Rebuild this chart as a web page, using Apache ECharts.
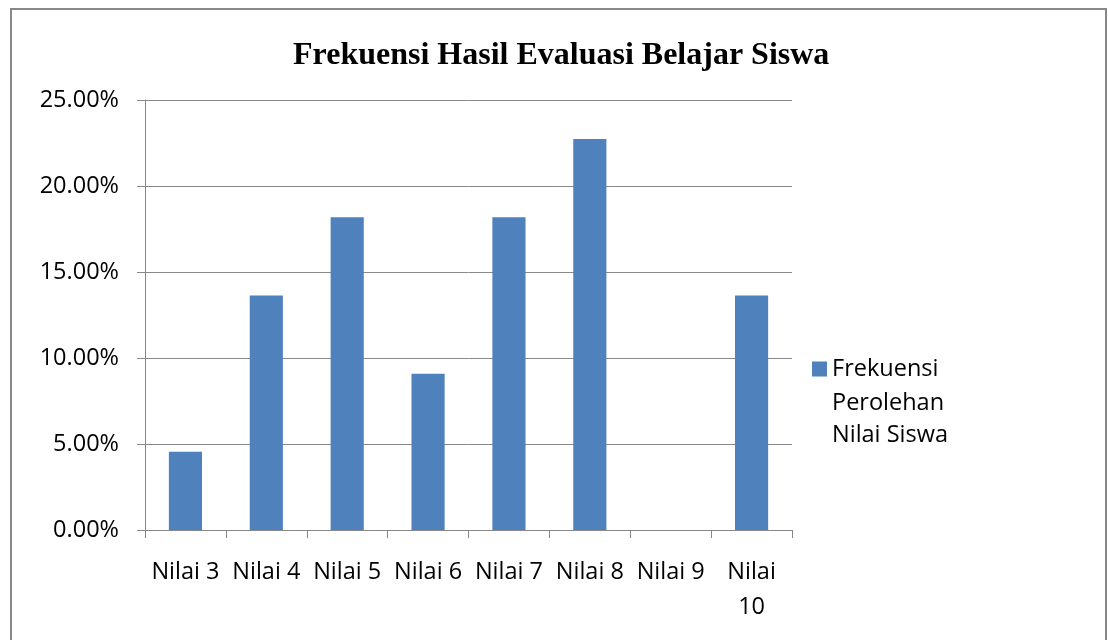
<!DOCTYPE html>
<html>
<head>
<meta charset="utf-8">
<script src="https://cdn.jsdelivr.net/npm/echarts@6/dist/echarts.min.js"></script>
<style>
  html, body { margin: 0; padding: 0; background: #fff; }
  #chart { width: 1108px; height: 640px; }
</style>
</head>
<body>
<div id="chart"></div>
<script>
// data (percent of students per score)
var categories = ['Nilai 3', 'Nilai 4', 'Nilai 5', 'Nilai 6', 'Nilai 7', 'Nilai 8', 'Nilai 9', 'Nilai 10'];
var frekuensi = [4.55, 13.64, 18.18, 9.09, 18.18, 22.73, 0, 13.64];
var seriesName = 'Frekuensi Perolehan Nilai Siswa';
var titleText = 'Frekuensi Hasil Evaluasi Belajar Siswa';

var font = 'Open Sans';
var fs = 23.5;
var myChart = echarts.init(document.getElementById('chart'));

var option = {
    backgroundColor: '#fff',
    animation: false,
    title: {
        text: titleText,
        left: 288,
        top: 35,
        textStyle: {
            fontFamily: 'Liberation Serif',
            fontWeight: 'bold',
            fontSize: 32,
            color: '#000'
        }
    },
    legend: {
        orient: 'vertical',
        left: 812,
        top: 353,
        padding: 0,
        itemWidth: 15,
        itemHeight: 15,
        icon: 'rect',
        // legend draws its icon beside the middle of a multi-line text,
        // so only the first line goes here, the rest is a graphic below
        formatter: function () {
            return 'Frekuensi';
        },
        textStyle: {
            fontFamily: font,
            fontSize: fs,
            lineHeight: 32,
            color: '#000'
        }
    },
    grid: {
        left: 145,
        right: 316,
        top: 100,
        bottom: 110
    },
    xAxis: {
        type: 'category',
        data: categories,
        axisLine: { lineStyle: { color: '#888', width: 1 } },
        axisTick: { show: true, length: 8, lineStyle: { color: '#888' } },
        axisLabel: {
            fontFamily: font,
            fontSize: fs,
            lineHeight: 35,
            color: '#000',
            margin: 25,
            interval: 0,
            formatter: function (v) {
                return v === 'Nilai 10' ? 'Nilai\n10' : v;
            }
        }
    },
    yAxis: {
        type: 'value',
        min: 0,
        max: 25,
        interval: 5,
        axisLine: { show: true, lineStyle: { color: '#888', width: 1 } },
        axisTick: { show: true, length: 8, lineStyle: { color: '#888' } },
        splitLine: { lineStyle: { color: '#888', width: 1 } },
        axisLabel: {
            fontFamily: font,
            fontSize: fs,
            color: '#000',
            margin: 26,
            formatter: function (v) {
                return v.toFixed(2) + '%';
            }
        }
    },
    series: [{
        name: seriesName,
        type: 'bar',
        barWidth: '41%',
        data: frekuensi,
        itemStyle: { color: '#4F81BD' }
    }],
    graphic: [{
        type: 'rect',
        shape: { x: 11, y: 9, width: 1095, height: 640 },
        style: { fill: 'none', stroke: '#888', lineWidth: 2 },
        silent: true
    }, {
        type: 'text',
        left: 832,
        top: 387,
        silent: true,
        style: {
            text: 'Perolehan\nNilai Siswa',
            font: fs + 'px "' + font + '"',
            lineHeight: 32,
            fill: '#000'
        }
    }]
};

myChart.setOption(option);
window.addEventListener('resize', function () {
    myChart.resize();
});
</script>
</body>
</html>
